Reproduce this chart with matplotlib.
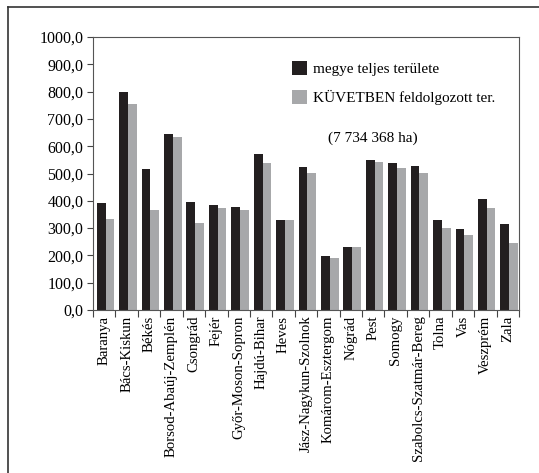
import numpy as np
import matplotlib.pyplot as plt
from matplotlib.lines import Line2D

megyek = ["Baranya", "Bács-Kiskun", "Békés", "Borsod-Abaúj-Zemplén", "Csongrád",
          "Fejér", "Győr-Moson-Sopron", "Hajdú-Bihar", "Heves", "Jász-Nagykun-Szolnok",
          "Komárom-Esztergom", "Nógrád", "Pest", "Somogy", "Szabolcs-Szatmár-Bereg",
          "Tolna", "Vas", "Veszprém", "Zala"]
teljes = [393, 800, 518, 643, 397, 386, 379, 572, 331, 522, 196, 232, 550, 540, 528, 331, 298, 408, 316]
kuvet = [335, 753, 368, 632, 320, 372, 368, 537, 328, 503, 189, 230, 543, 519, 503, 302, 273, 375, 247]
y_ticks = np.arange(0, 1001, 100)

plt.rcParams["font.family"] = ["Liberation Serif", "DejaVu Serif"]

fig = plt.figure(figsize=(5.39, 4.73), dpi=100)
ax = fig.add_axes([93 / 539, 1 - 310 / 473, 426 / 539, 273 / 473])

x = np.arange(len(megyek))
w = 0.39
ax.bar(x - w / 2 + 0.06, teljes, w, color="#231f20", label="megye teljes területe")
ax.bar(x + w / 2 + 0.06, kuvet, w, color="#a7a8aa", label="KÜVETBEN feldolgozott ter.")

ax.set_xlim(-0.5, len(megyek) - 0.5)
ax.set_ylim(0, 1000)
ax.set_yticks(y_ticks)
ax.set_yticklabels([f"{v:.1f}".replace(".", ",") for v in y_ticks], fontsize=11.5)

ax.set_xticks(x)
ax.set_xticklabels(megyek, rotation=90, fontsize=10.6)
ax.tick_params(axis="x", length=0, pad=4)
ax.set_xticks(np.arange(-0.5, len(megyek)), minor=True)
ax.tick_params(axis="x", which="minor", length=5, width=0.8, color="#444444")
ax.tick_params(axis="y", length=4, width=0.8, color="#444444", pad=3)

for s in ax.spines.values():
    s.set_color("#555555")
    s.set_linewidth(0.8)

leg = ax.legend(loc="upper left", bbox_to_anchor=(0.467, 0.912), frameon=False,
                fontsize=11, handlelength=1.0, handleheight=1.0, labelspacing=0.9,
                handletextpad=0.4, borderaxespad=0, borderpad=0)
ax.text(0.656, 0.63, "(7 734 368 ha)", transform=ax.transAxes, fontsize=11,
        ha="center", va="center")

# keret a kép szélén
fig.add_artist(Line2D([8 / 539, 8 / 539], [0, 1 - 7 / 473], color="#333333", lw=1.2))
fig.add_artist(Line2D([8 / 539, 1], [1 - 7 / 473, 1 - 7 / 473], color="#333333", lw=1.2))

fig.savefig("out.png", dpi=100)
